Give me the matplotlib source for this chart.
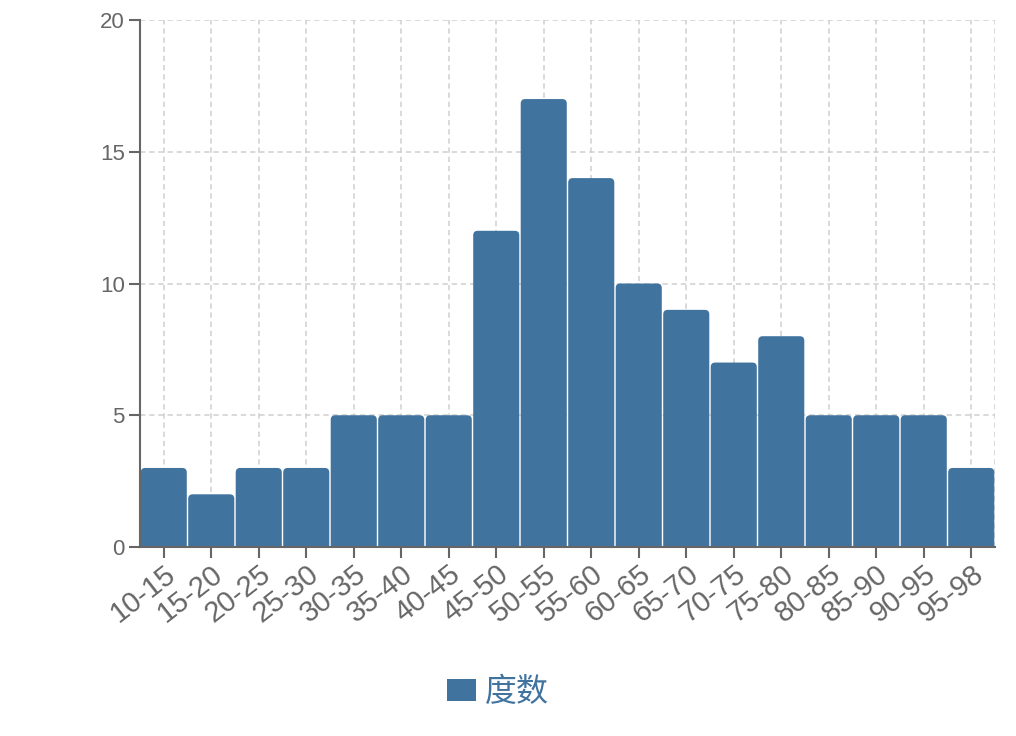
import matplotlib
matplotlib.use('Agg')
import matplotlib.pyplot as plt
from matplotlib.patches import FancyBboxPatch

plt.rcParams['font.family'] = ['Liberation Sans', 'Noto Sans CJK SC', 'DejaVu Sans']

# data
bins = ['10-15', '15-20', '20-25', '25-30', '30-35', '35-40', '40-45', '45-50',
        '50-55', '55-60', '60-65', '65-70', '70-75', '75-80', '80-85', '85-90',
        '90-95', '95-98']
counts = [3, 2, 3, 3, 5, 5, 5, 12, 17, 14, 10, 9, 7, 8, 5, 5, 5, 3]
series_name = '度数'
y_ticks = [0, 5, 10, 15, 20]

bar_color = '#41739f'
axis_color = '#666666'
grid_color = '#cfcfcf'
grid_ls = (0, (3.5, 2.5))

fig = plt.figure(figsize=(10.16, 7.36), dpi=100)
ax = fig.add_axes([140 / 1016, 1 - 547 / 736, 855 / 1016, 527 / 736])

xs = list(range(len(bins)))
bars = ax.bar(xs, counts, width=0.97, color=bar_color, label=series_name)

# swap plain bars for ones with rounded top corners
px_x = 855 / len(bins)
px_y = 527 / 20
r = 4.5 / px_x
for b in bars:
    x0, w, h = b.get_x(), b.get_width(), b.get_height()
    b.set_visible(False)
    p = FancyBboxPatch((x0, -1), w, h + 1,
                       boxstyle='round,pad=0,rounding_size=%f' % r,
                       mutation_aspect=px_x / px_y,
                       facecolor=bar_color, edgecolor='none', zorder=2)
    ax.add_patch(p)

ax.set_xlim(-0.5, len(bins) - 0.5)
ax.set_ylim(0, 20)
ax.set_yticks(y_ticks)
ax.set_xticks(xs)
ax.set_xticklabels(bins, rotation=38, ha='right', va='top',
                   rotation_mode='anchor')

# dashed grid behind the bars
for x in xs:
    ax.axvline(x, color=grid_color, ls=grid_ls, lw=1.1, zorder=0)
ax.axvline(len(bins) - 0.5, color=grid_color, ls=grid_ls, lw=1.1, zorder=0)
for y in y_ticks[1:]:
    ax.axhline(y, color=grid_color, ls=grid_ls, lw=1.1, zorder=0)

for s in ['top', 'right']:
    ax.spines[s].set_visible(False)
for s in ['left', 'bottom']:
    ax.spines[s].set_color(axis_color)
    ax.spines[s].set_linewidth(1.5)
    ax.spines[s].set_zorder(3)

ax.tick_params(axis='both', colors=axis_color, length=8, width=1.5)
ax.tick_params(axis='y', labelsize=16, pad=3)
ax.tick_params(axis='x', labelsize=21, pad=1)
for lab in ax.get_xticklabels() + ax.get_yticklabels():
    lab.set_color(axis_color)

leg = fig.legend(handles=[bars[0]], labels=[series_name], loc='center',
                 bbox_to_anchor=(498 / 1016, 1 - 693 / 736), frameon=False,
                 fontsize=23, handlelength=0.9, handleheight=0.68,
                 handletextpad=0.3)
leg.legend_handles[0].set_visible(True)
for t in leg.get_texts():
    t.set_color(bar_color)

fig.savefig('out.png', dpi=100)
